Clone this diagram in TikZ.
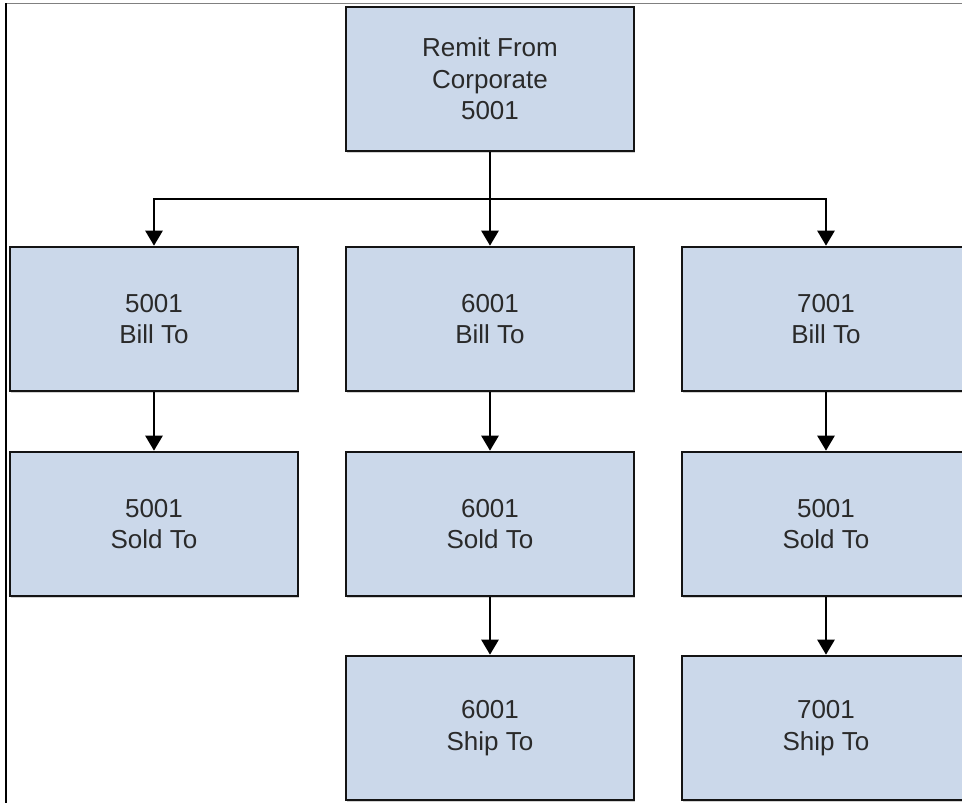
\documentclass[tikz,border=0pt]{standalone}
\usepackage{fontspec}
\setmainfont{Liberation Sans}
\usetikzlibrary{arrows.meta,shadows}
\definecolor{boxfill}{HTML}{CBD8EA}
\definecolor{boxtext}{HTML}{2A2A2A}
\begin{document}
\begin{tikzpicture}[x=1pt,y=-1pt,
  unit/.style={draw=black!92, line width=2.6pt, fill=boxfill, text=boxtext,
    minimum width=288pt, minimum height=144pt, inner sep=0pt, align=center,
    font=\fontsize{26}{31.5}\selectfont,
    drop shadow={shadow xshift=1pt, shadow yshift=-1.5pt, opacity=0.35}},
  conn/.style={line width=2.6pt, black},
  arr/.style={conn, -{Triangle[width=17pt,length=15pt]}}]
\useasboundingbox (0,0) rectangle (962,803);
\clip (0,0) rectangle (962,803);
\fill[white] (0,0) rectangle (962,803);
% frame
\draw[gray, line width=1pt] (6,3.5) -- (962,3.5);
\draw[black, line width=1.5pt] (6,3) -- (6,803);
% nodes
\node[unit] (top) at (490,79) {Remit From\\Corporate\\5001};
\node[unit] (b1) at (154,319) {5001\\Bill To};
\node[unit] (b2) at (490,319) {6001\\Bill To};
\node[unit] (b3) at (826,319) {7001\\Bill To};
\node[unit] (s1) at (154,524) {5001\\Sold To};
\node[unit] (s2) at (490,524) {6001\\Sold To};
\node[unit] (s3) at (826,524) {5001\\Sold To};
\node[unit] (p2) at (490,728) {6001\\Ship To};
\node[unit] (p3) at (826,728) {7001\\Ship To};
% connectors
\coordinate (j) at (490,199);
\draw[conn] (top.south) -- (j);
\draw[arr] (j) -| (b1.north);
\draw[arr] (j) -- (b2.north);
\draw[arr] (j) -| (b3.north);
\draw[arr] (b1.south) -- (s1.north);
\draw[arr] (b2.south) -- (s2.north);
\draw[arr] (b3.south) -- (s3.north);
\draw[arr] (s2.south) -- (p2.north);
\draw[arr] (s3.south) -- (p3.north);
\end{tikzpicture}
\end{document}
